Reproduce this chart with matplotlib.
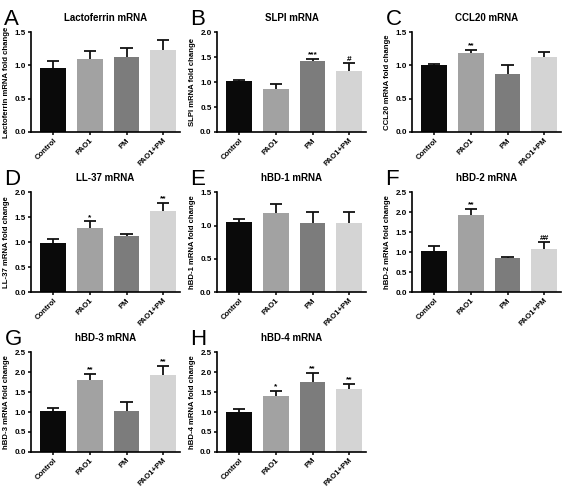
import matplotlib.pyplot as plt
import numpy as np

plt.rcParams['font.family'] = ['Liberation Sans', 'DejaVu Sans']

groups = ["Control", "PAO1", "PM", "PAO1+PM"]
colors = ["#0a0a0a", "#a2a2a2", "#7c7c7c", "#d4d4d4"]

lacto_mean = [0.96, 1.10, 1.13, 1.23]
lacto_err = [0.10, 0.11, 0.13, 0.15]
slpi_mean = [1.02, 0.87, 1.43, 1.23]
slpi_err = [0.03, 0.10, 0.04, 0.15]
ccl20_mean = [1.00, 1.19, 0.87, 1.13]
ccl20_err = [0.02, 0.04, 0.13, 0.07]
ll37_mean = [0.98, 1.29, 1.13, 1.63]
ll37_err = [0.09, 0.13, 0.03, 0.16]
hbd1_mean = [1.06, 1.19, 1.04, 1.04]
hbd1_err = [0.04, 0.14, 0.17, 0.16]
hbd2_mean = [1.04, 1.94, 0.85, 1.09]
hbd2_err = [0.11, 0.14, 0.02, 0.16]
hbd3_mean = [1.03, 1.80, 1.03, 1.92]
hbd3_err = [0.07, 0.15, 0.21, 0.23]
hbd4_mean = [0.99, 1.39, 1.75, 1.57]
hbd4_err = [0.08, 0.14, 0.23, 0.13]

# letter, title, ylabel, ymax, means, errors, significance marks
panels = [
    ("A", "Lactoferrin mRNA", "Lactoferrin mRNA fold change", 1.5, lacto_mean, lacto_err, ["", "", "", ""]),
    ("B", "SLPI mRNA", "SLPI mRNA fold change", 2.0, slpi_mean, slpi_err, ["", "", "***", "#"]),
    ("C", "CCL20 mRNA", "CCL20 mRNA fold change", 1.5, ccl20_mean, ccl20_err, ["", "**", "", ""]),
    ("D", "LL-37 mRNA", "LL-37 mRNA fold change", 2.0, ll37_mean, ll37_err, ["", "*", "", "**"]),
    ("E", "hBD-1 mRNA", "hBD-1 mRNA fold change", 1.5, hbd1_mean, hbd1_err, ["", "", "", ""]),
    ("F", "hBD-2 mRNA", "hBD-2 mRNA fold change", 2.5, hbd2_mean, hbd2_err, ["", "**", "", "##"]),
    ("G", "hBD-3 mRNA", "hBD-3 mRNA fold change", 2.5, hbd3_mean, hbd3_err, ["", "**", "", "**"]),
    ("H", "hBD-4 mRNA", "hBD-4 mRNA fold change", 2.5, hbd4_mean, hbd4_err, ["", "*", "**", "**"]),
]

fig = plt.figure(figsize=(5.67, 4.87), dpi=100)

lefts = [0.055, 0.383, 0.727]
bottoms = [0.729, 0.400, 0.072]
w = 0.262
h = 0.205

x = np.arange(len(groups))
for k, (let, title, ylab, ymax, mean, err, marks) in enumerate(panels):
    r, c = divmod(k, 3)
    ax = fig.add_axes([lefts[c], bottoms[r], w, h])
    ax.bar(x, mean, width=0.7, color=colors, edgecolor="none", zorder=2)
    top = np.array(mean) + np.array(err)
    # upper-only error bars
    ax.vlines(x, mean, top, color="#111111", linewidth=1.3, zorder=3)
    ax.hlines(top, x - 0.17, x + 0.17, color="#111111", linewidth=1.3, zorder=3)
    for i in range(4):
        if marks[i]:
            ax.text(x[i], top[i] + ymax*0.005, marks[i], ha="center", va="bottom",
                    fontsize=6, fontweight="bold")
    ticks = np.arange(0, ymax + 0.01, 0.5)
    ax.set_ylim(0, ymax)
    ax.set_xlim(-0.6, 3.45)
    ax.set_yticks(ticks)
    ax.set_yticklabels(["%.1f" % v for v in ticks], fontsize=5.8, fontweight="bold")
    ax.set_xticks(x)
    ax.set_xticklabels(groups, rotation=45, ha="right", rotation_mode="anchor",
                       fontsize=5.6, fontweight="bold")
    ax.tick_params(axis="both", length=2.5, width=1.1, pad=1.5)
    ax.tick_params(axis="x", pad=1)
    for s in ["top", "right"]:
        ax.spines[s].set_visible(False)
    for s in ["left", "bottom"]:
        ax.spines[s].set_linewidth(1.2)
    ax.set_title(title, fontsize=7, fontweight="bold", pad=8)
    ax.set_ylabel(ylab, fontsize=5.6, fontweight="bold", labelpad=3)
    ax.text(-0.18, 1.13, let, transform=ax.transAxes, fontsize=16, ha="left", va="center")

fig.savefig("out.png", dpi=100)
